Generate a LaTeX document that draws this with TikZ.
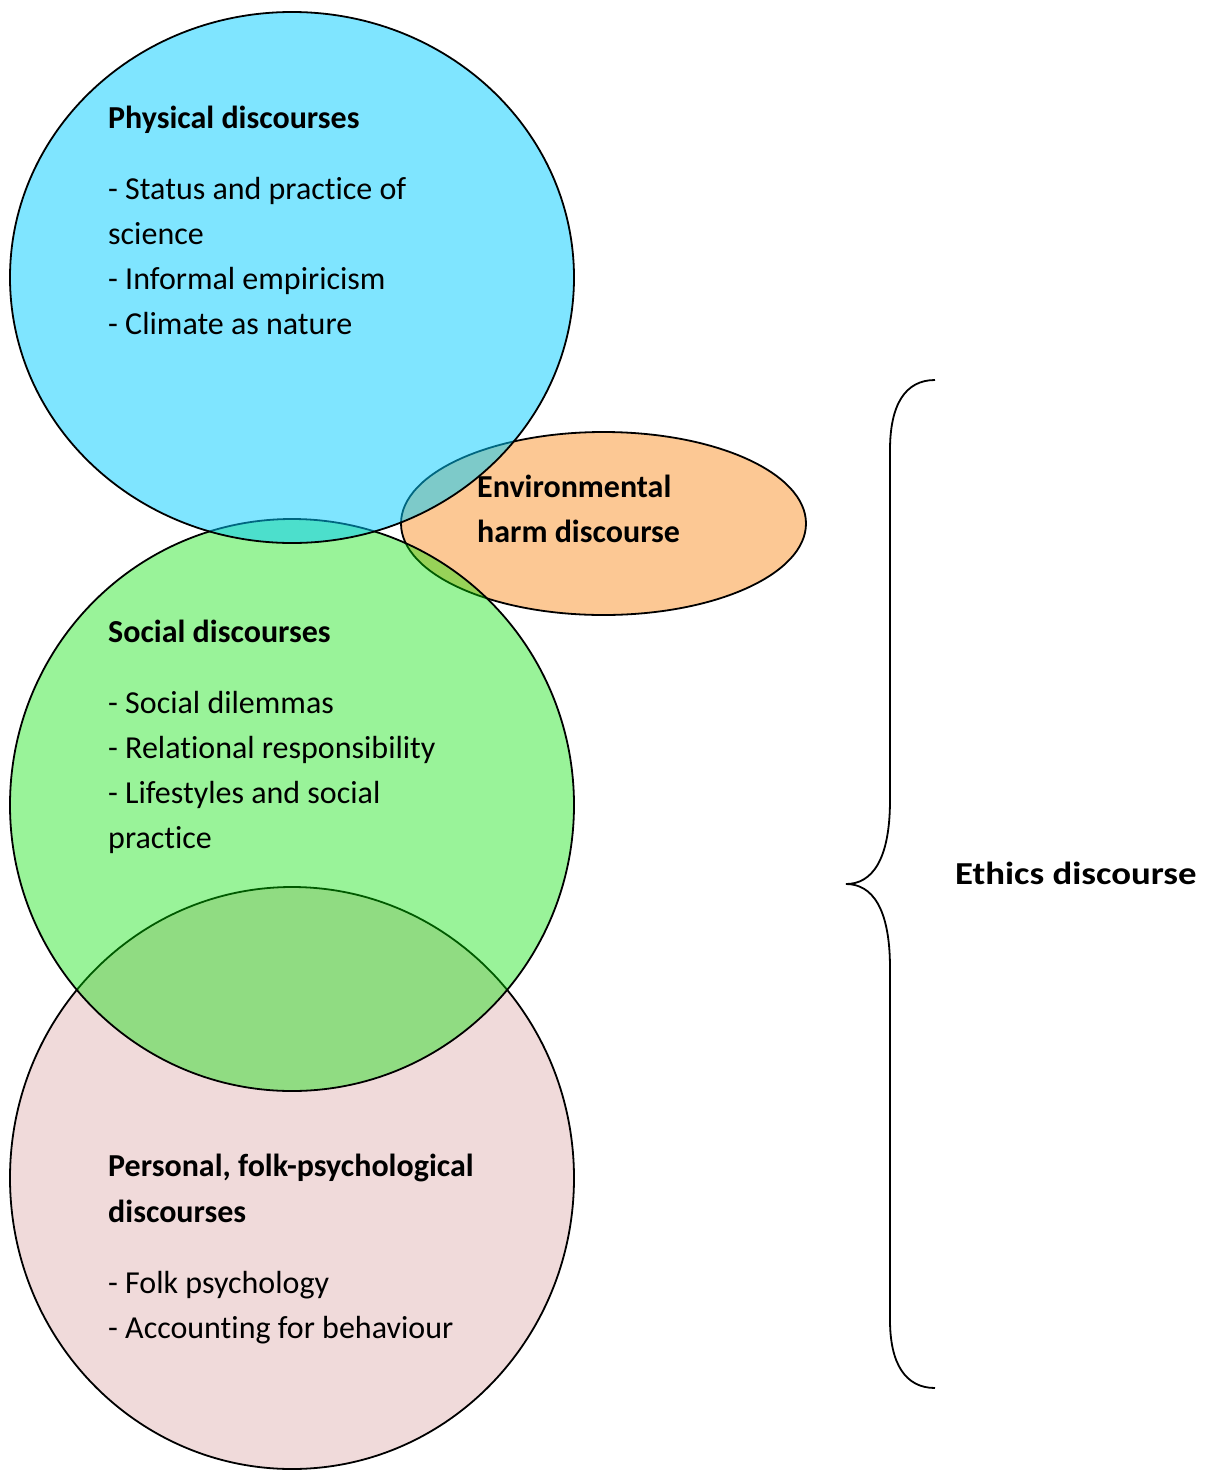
\documentclass[tikz,border=0pt]{standalone}
\usepackage{fontspec}
\setmainfont[RawFeature={-liga;-clig;-dlig;-calt}]{Carlito}
\definecolor{physblue}{RGB}{0,204,255}
\definecolor{socgreen}{RGB}{0,225,0}
\definecolor{perspink}{RGB}{240,218,218}
\definecolor{envorange}{RGB}{252,200,148}
\begin{document}
\begin{tikzpicture}[x=1pt,y=-1pt,
  outline/.style={draw=black,line width=1.8pt},
  txt/.style={anchor=base west,inner sep=0pt,font=\fontsize{32pt}{45pt}\selectfont},
  hd/.style={txt,font=\fontsize{32pt}{45pt}\selectfont\bfseries}]
\useasboundingbox (0,0) rectangle (1216,1470);

% discourse areas, lowest layer first
\path[outline,fill=perspink] (292,1178) ellipse [x radius=282pt,y radius=291pt];
\path[outline,fill=envorange] (603.5,523.5) ellipse [x radius=202.5pt,y radius=91.5pt];
\path[outline,fill=socgreen,fill opacity=0.4] (292,805) ellipse [x radius=282pt,y radius=286pt];
\path[outline,fill=physblue,fill opacity=0.5] (292,277.5) ellipse [x radius=282pt,y radius=265.5pt];

% physical discourses
\node[hd] (phyh) at (108,128.5) {Physical discourses};
\node[txt] (phy1) at (108,199) {- Status and practice of};
\node[txt] (phy1b) at (108,244) {science};
\node[txt] (phy2) at (108,289) {- Informal empiricism};
\node[txt] (phy3) at (108,334) {- Climate as nature};

% environmental harm
\node[hd] (envh1) at (477,497) {Environmental};
\node[hd] (envh2) at (477,542) {harm discourse};

% social discourses
\node[hd] (soch) at (108,642) {Social discourses};
\node[txt] (soc1) at (108,713) {- Social dilemmas};
\node[txt] (soc2) at (108,758) {- Relational responsibility};
\node[txt] (soc3) at (108,803) {- Lifestyles and social};
\node[txt] (soc3b) at (108,848) {practice};

% personal discourses
\node[hd] (perh1) at (108,1176) {Personal, folk-psychological};
\node[hd] (perh2) at (108,1222) {discourses};
\node[txt] (per1) at (108,1293) {- Folk psychology};
\node[txt] (per2) at (108,1338) {- Accounting for behaviour};

% brace spanning the whole ethics discourse
\coordinate (btop) at (935,380);
\coordinate (btip) at (846,884);
\coordinate (bbot) at (935,1388);
\draw[line width=1.8pt]
  (btop) .. controls (905,380) and (890,405) .. (890,450)
  -- (890,800) .. controls (890,860) and (872,884) .. (btip)
  .. controls (872,884) and (890,908) .. (890,968)
  -- (890,1320) .. controls (890,1363) and (905,1388) .. (bbot);
\node[hd] (ethics) at (955,884) {\scalebox{1.15}[1]{Ethics discourse}};
\end{tikzpicture}
\end{document}
